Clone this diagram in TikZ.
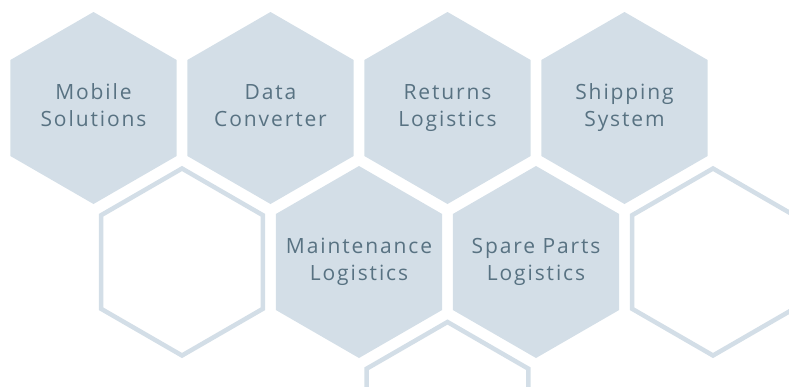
\documentclass[tikz,border=0pt]{standalone}
\usepackage{fontspec}
\setmainfont{Open Sans}[LetterSpace=9]
\usetikzlibrary{shapes.geometric}
\definecolor{hexfillc}{HTML}{D3DEE7}
\definecolor{hextext}{HTML}{587282}
\tikzset{
  hexbase/.style={regular polygon, regular polygon sides=6, shape border rotate=30, inner sep=0pt, outer sep=0pt},
  hexfull/.style={hexbase, minimum size=192pt, fill=hexfillc, draw=none},
  hexline/.style={hexbase, minimum size=187pt, fill=white, draw=hexfillc, line width=4.5pt},
  hexlabel/.style={text=hextext, align=center, inner sep=0pt, font=\fontsize{21}{27}\selectfont}
}
\begin{document}
\begin{tikzpicture}[x=1pt,y=-1pt]
\useasboundingbox (0,0) rectangle (789,386);
\clip (0,0) rectangle (789,386);
% row 1
\node[hexfull] (h1) at (93.5,108) {};
\node[hexfull] (h2) at (270.5,108) {};
\node[hexfull] (h3) at (447.5,108) {};
\node[hexfull] (h4) at (624.5,108) {};
% row 2
\node[hexline] (h5) at (182,262) {};
\node[hexfull] (h6) at (359,262) {};
\node[hexfull] (h7) at (536,262) {};
\node[hexline] (h8) at (713,262) {};
% row 3
\node[hexline] (h9) at (447.5,415.5) {};
% labels
\node[hexlabel] (t1) at (h1.center) {\strut Mobile\\\strut Solutions};
\node[hexlabel] (t2) at (h2.center) {\strut Data\\\strut Converter};
\node[hexlabel] (t3) at (h3.center) {\strut Returns\\\strut Logistics};
\node[hexlabel] (t4) at (h4.center) {\strut Shipping\\\strut System};
\node[hexlabel] (t6) at (h6.center) {\strut Maintenance\\\strut Logistics};
\node[hexlabel] (t7) at (h7.center) {\strut Spare Parts\\\strut Logistics};
\end{tikzpicture}
\end{document}
